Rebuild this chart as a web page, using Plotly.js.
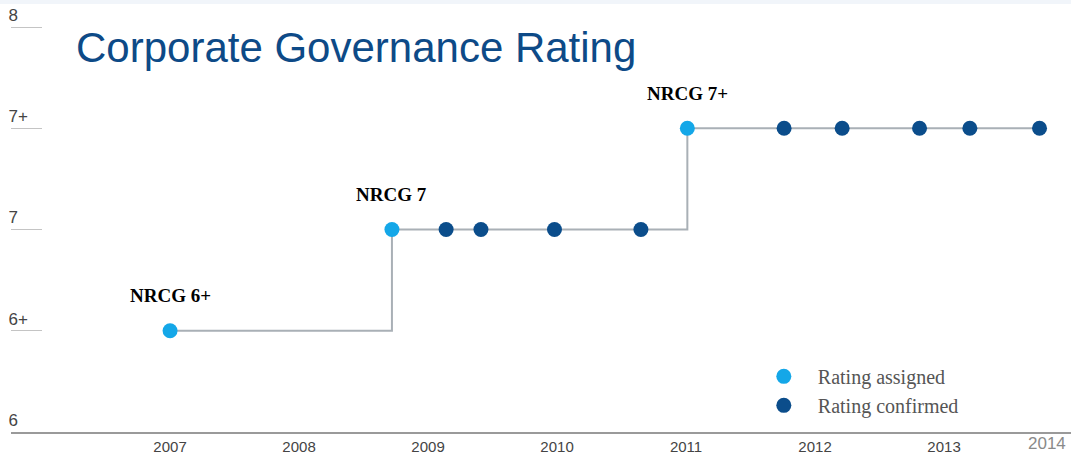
<!DOCTYPE html>
<html>
<head>
<meta charset="utf-8">
<script src="https://cdn.plot.ly/plotly-3.0.1.min.js"></script>
<style>html,body{margin:0;padding:0;background:#fff;}#chart{width:1071px;height:461px;}</style>
</head>
<body>
<div id="chart"></div>
<script>
// ---- data ----
var ratingLevels = [0, 1, 2, 3, 4];
var ratingLabels = ['6', '6+', '7', '7+', '8'];
var yearTicks = [2007, 2008, 2009, 2010, 2011, 2012, 2013];
var yearLabels = ['2007', '2008', '2009', '2010', '2011', '2012', '2013'];
var lastYearLabel = '2014';

// event dates (decimal year), rating level (index into ratingLabels), status
var eventDates = [2007.00, 2008.72, 2009.14, 2009.41, 2009.98, 2010.65, 2011.01, 2011.76, 2012.21, 2012.81, 2013.20, 2013.74];
var eventRatings = [1, 2, 2, 2, 2, 2, 3, 3, 3, 3, 3, 3];
var eventStatus = ['assigned', 'assigned', 'confirmed', 'confirmed', 'confirmed', 'confirmed', 'assigned', 'confirmed', 'confirmed', 'confirmed', 'confirmed', 'confirmed'];
var assignedLabels = ['NRCG 6+', 'NRCG 7', 'NRCG 7+'];

// ---- build ----
function pick(status) {
  var xs = [], ys = [];
  for (var i = 0; i < eventDates.length; i++) {
    if (eventStatus[i] === status) { xs.push(eventDates[i]); ys.push(eventRatings[i]); }
  }
  return {x: xs, y: ys};
}
var A = pick('assigned');
var C = pick('confirmed');

var traces = [
  {x: eventDates, y: eventRatings, mode: 'lines', line: {shape: 'hv', color: '#a9b0b6', width: 2}, showlegend: false, hoverinfo: 'skip'},
  {x: A.x, y: A.y, mode: 'markers', name: 'Rating assigned', legendgroup: 'a',
   marker: {color: '#14a7e8', size: 15}},
  {x: C.x, y: C.y, mode: 'markers', name: 'Rating confirmed', legendgroup: 'c',
   marker: {color: '#0b4d8b', size: 15}}
];

var annotations = A.x.map(function (x, i) {
  return {x: x, y: A.y[i], xref: 'x', yref: 'y', text: assignedLabels[i], showarrow: false,
    yshift: 35, font: {family: 'Liberation Serif', size: 19, color: '#000', weight: 'bold'}};
});
annotations.push({x: 2013.80, y: 0, xref: 'x', yref: 'paper', yanchor: 'top', text: lastYearLabel,
  showarrow: false, yshift: 0, font: {family: 'Liberation Sans', size: 17, color: '#8a8a8a'}});

var layout = {
  width: 1071, height: 461,
  margin: {l: 11, r: 0, t: 5, b: 29},
  paper_bgcolor: '#fff', plot_bgcolor: '#fff',
  showlegend: true,
  title: {text: 'Corporate Governance Rating', xref: 'container', yref: 'container',
    x: 76 / 1071, xanchor: 'left', y: 1 - 47 / 461, yanchor: 'middle',
    font: {family: 'Liberation Sans', size: 42, color: '#0d4a87'}},
  xaxis: {range: [2005.767, 2013.984], tickvals: yearTicks, ticktext: yearLabels,
    showgrid: false, zeroline: false, showline: true, linecolor: '#9a9a9a', linewidth: 2,
    ticks: '', tickfont: {family: 'Liberation Sans', size: 15, color: '#444'}},
  yaxis: {range: [0, 4.2173], tickvals: ratingLevels, ticktext: ratingLabels,
    showgrid: false, zeroline: false, showline: false,
    ticks: 'inside', ticklen: 31, tickcolor: '#c4c4c4', tickwidth: 1,
    ticklabelposition: 'inside', ticklabelstandoff: -33, ticklabelshift: -12,
    tickfont: {family: 'Liberation Sans', size: 17, color: '#444'}},
  legend: {x: 0.697, xanchor: 'left', y: 0.176, yanchor: 'top', bgcolor: 'rgba(0,0,0,0)',
    itemwidth: 58, tracegroupgap: 0,
    font: {family: 'Liberation Serif', size: 20, color: '#555'}},
  shapes: [{type: 'rect', xref: 'paper', yref: 'paper', x0: -0.02, x1: 1.01, y0: 1.0025, y1: 1.05,
    line: {width: 0}, fillcolor: '#f1f5fa', layer: 'below'}],
  annotations: annotations
};

Plotly.newPlot('chart', traces, layout, {displayModeBar: false, staticPlot: true});
</script>
</body>
</html>
